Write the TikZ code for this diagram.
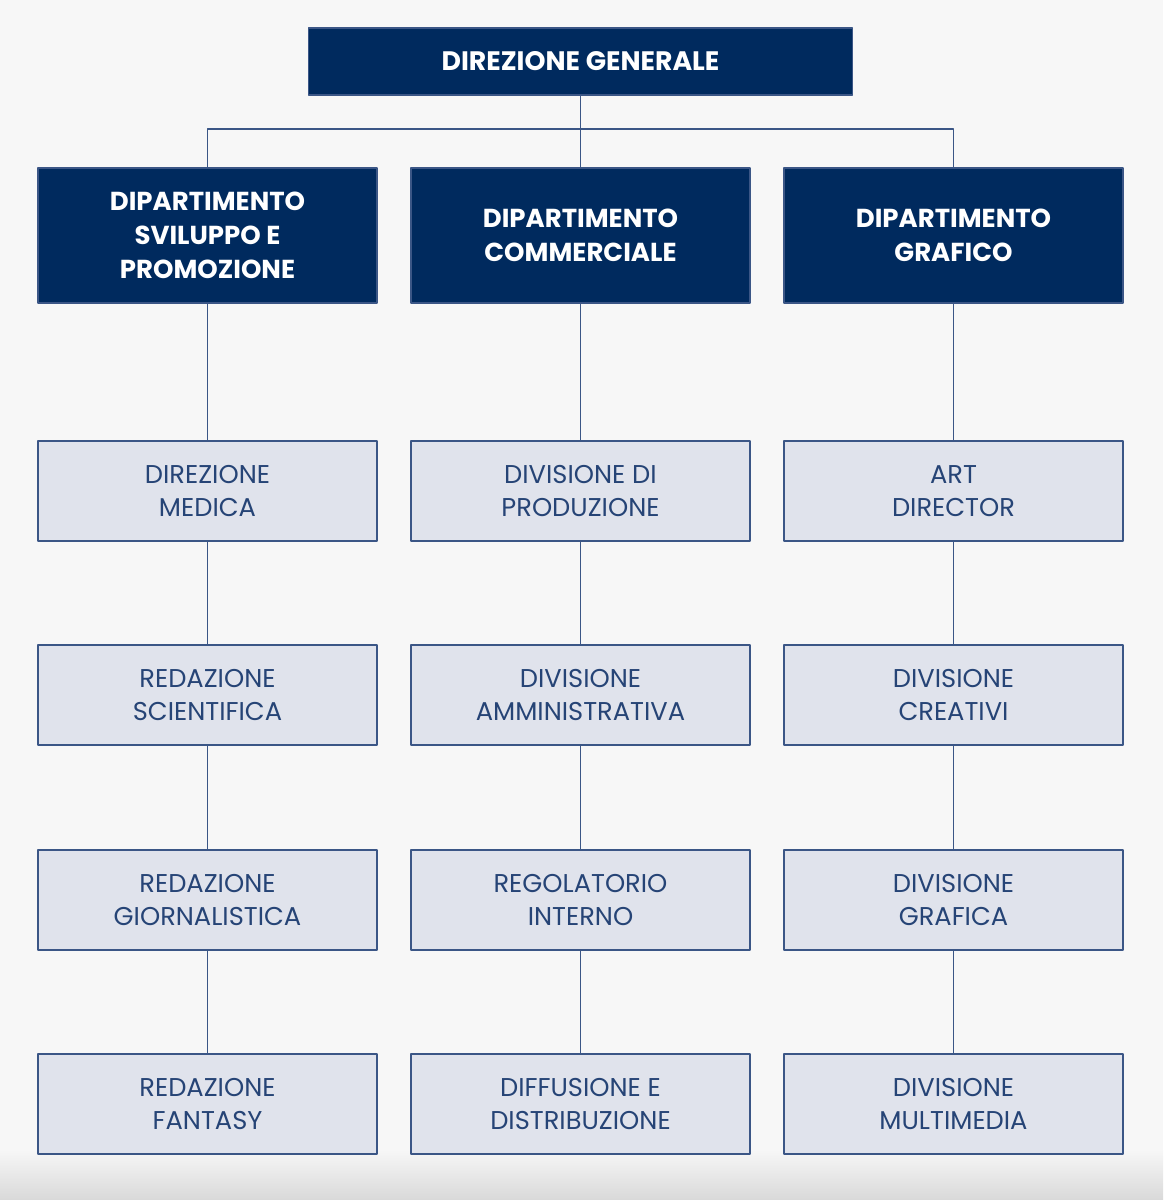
\documentclass[tikz,border=0pt]{standalone}
\usepackage{fontspec}
\setmainfont{Poppins}
\definecolor{navy}{HTML}{002A5E}
\definecolor{paleblue}{HTML}{E0E3EC}
\definecolor{framecol}{HTML}{3B5686}
\definecolor{inkblue}{HTML}{264476}
\definecolor{pagebg}{HTML}{F7F7F7}
\tikzset{
  head/.style={draw=framecol, fill=navy, text=white, line width=0.9pt,
    minimum width=8.475cm, minimum height=3.375cm, align=center,
    font=\fontsize{18.5}{24}\selectfont\bfseries},
  unit/.style={draw=framecol, fill=paleblue, text=inkblue, line width=0.9pt,
    minimum width=8.475cm, minimum height=2.5cm, align=center,
    font=\fontsize{18.3}{23.5}\selectfont},
  link/.style={draw=framecol, line width=0.9pt}
}
\begin{document}
\begin{tikzpicture}[line join=round]
  \useasboundingbox[fill=pagebg] (0,0) rectangle (29.075,-30);
  \shade[top color=pagebg, bottom color=black!15] (0,-28.75) rectangle (29.075,-30);
  % direzione
  \node[head, minimum width=13.6cm, minimum height=1.675cm, font=\fontsize{19}{24}\selectfont\bfseries] (dir) at (14.5125,-1.5375) {DIREZIONE GENERALE};
  \coordinate (bus) at (14.5125,-3.225);
  % dipartimenti
  \node[head] (dsv) at (5.1875,-5.8875) {DIPARTIMENTO\\SVILUPPO E\\PROMOZIONE};
  \node[head] (dcom) at (14.5125,-5.8875) {DIPARTIMENTO\\COMMERCIALE};
  \node[head] (dgra) at (23.8375,-5.8875) {DIPARTIMENTO\\GRAFICO};
  % sviluppo e promozione
  \node[unit] (med) at (5.1875,-12.275) {DIREZIONE\\MEDICA};
  \node[unit] (sci) at (5.1875,-17.375) {REDAZIONE\\SCIENTIFICA};
  \node[unit] (gio) at (5.1875,-22.5) {REDAZIONE\\GIORNALISTICA};
  \node[unit] (fan) at (5.1875,-27.6) {REDAZIONE\\FANTASY};
  % commerciale
  \node[unit] (pro) at (14.5125,-12.275) {DIVISIONE DI\\PRODUZIONE};
  \node[unit] (amm) at (14.5125,-17.375) {DIVISIONE\\AMMINISTRATIVA};
  \node[unit] (reg) at (14.5125,-22.5) {REGOLATORIO\\INTERNO};
  \node[unit] (dif) at (14.5125,-27.6) {DIFFUSIONE E\\DISTRIBUZIONE};
  % grafico
  \node[unit] (art) at (23.8375,-12.275) {ART\\DIRECTOR};
  \node[unit] (cre) at (23.8375,-17.375) {DIVISIONE\\CREATIVI};
  \node[unit] (gra) at (23.8375,-22.5) {DIVISIONE\\GRAFICA};
  \node[unit] (mul) at (23.8375,-27.6) {DIVISIONE\\MULTIMEDIA};
  % collegamenti
  \draw[link] (dir) -- (dcom);
  \draw[link] (dsv.north) -- (dsv.north |- bus) -- (dgra.north |- bus) -- (dgra.north);
  \draw[link] (dsv) -- (med) -- (sci) -- (gio) -- (fan);
  \draw[link] (dcom) -- (pro) -- (amm) -- (reg) -- (dif);
  \draw[link] (dgra) -- (art) -- (cre) -- (gra) -- (mul);
\end{tikzpicture}
\end{document}
